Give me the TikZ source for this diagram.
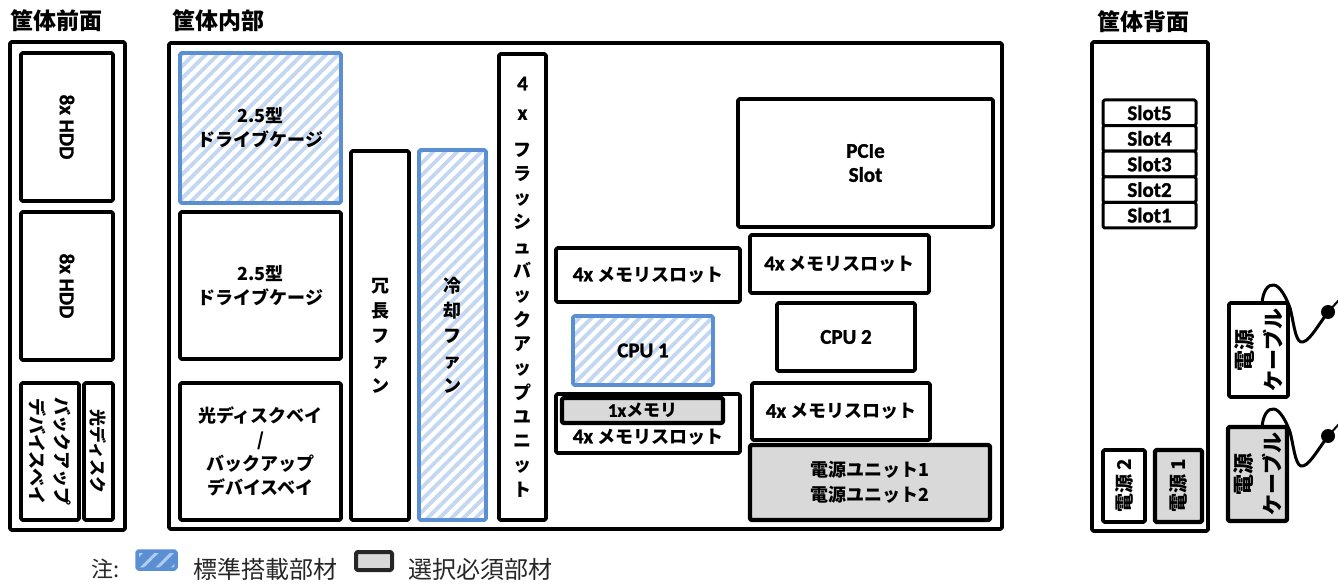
\documentclass[tikz,border=0pt]{standalone}
\usepackage{fontspec}
\setmainfont{Carlito}
\newfontfamily\latf{Carlito}[BoldFeatures={FakeBold=1.3}]
\newfontfamily\jpf{Noto Sans CJK JP}
\usetikzlibrary{patterns.meta}
\definecolor{hblue}{HTML}{5B8FD4}
\definecolor{hstripe}{HTML}{C4D7F0}
\definecolor{lstripe}{HTML}{B3CBEE}
\definecolor{psgray}{HTML}{D9D9D9}
\newcommand\jpsize[1]{\fontsize{#1}{24}\selectfont\jpf\bfseries}
\newcommand\jpskip[2]{\fontsize{#1}{#2}\selectfont\jpf\bfseries}
\newcommand\jpreg[1]{\fontsize{#1}{26}\selectfont\jpf\mdseries}
\newcommand\latsize[1]{\fontsize{#1}{24}\selectfont\latf\bfseries}
\newcommand\mybox[7]{\node[#6,minimum width=#4pt-#2pt,minimum height=#5pt-#3pt] (#1) at ({(#2+#4)/2},{(#3+#5)/2}) {#7};}
\tikzset{
  frame/.style={draw=black, line width=3.8pt, rounded corners=1.5pt, inner sep=0pt, outer sep=0pt},
  blk/.style={frame, fill=white, align=center, font=\jpsize{18}},
  std/.style={draw=hblue, line width=3.8pt, rounded corners=1.5pt, inner sep=0pt, outer sep=0pt,
    align=center, font=\jpsize{18}, preaction={fill=white},
    pattern={Lines[angle=45,distance=8.5pt,line width=3.8pt]}, pattern color=hstripe},
  opt/.style={blk, fill=psgray, line width=4.3pt},
  lbl/.style={inner sep=0pt, outer sep=0pt, align=center},
  cable/.style={line width=3pt, line cap=round},
}
\begin{document}
\begin{tikzpicture}[x=1pt,y=-1pt,line join=round]
\useasboundingbox (0,0) rectangle (1338,585);

% headings
\node[lbl, font=\jpsize{23}] (hfront) at (56,21) {筐体前面};
\node[lbl, font=\jpsize{23}] (hint) at (218,21) {筐体内部};
\node[lbl, font=\jpsize{23}] (hback) at (1143,22) {筐体背面};

% ---------- front ----------
\mybox{front}{10}{42}{125}{530}{frame}{}
\mybox{hdd1}{21}{53}{113}{201}{blk}{}
\mybox{hdd2}{21}{212}{113}{360}{blk}{}
\mybox{bbay}{21}{383}{79}{520}{blk}{}
\mybox{optf}{84}{383}{113}{520}{blk}{}
\node[lbl, rotate=-90, font=\latsize{21}] (hdd1t) at (hdd1.center) {8x HDD};
\node[lbl, rotate=-90, font=\latsize{21}] (hdd2t) at (hdd2.center) {8x HDD};
\node[lbl, rotate=-90, font=\jpskip{18}{25}] (bbayt) at (bbay.center) {バックアップ\\デバイスベイ};
\node[lbl, rotate=-90, font=\jpsize{17}] (optft) at (optf.center) {光ディスク};

% ---------- internal ----------
\mybox{inner}{169}{43}{1002}{529}{frame}{}
\mybox{cage1}{180}{53}{341}{203}{std}{2.5型\\ドライブケージ}
\mybox{cage2}{180}{212}{341}{359}{blk}{2.5型\\ドライブケージ}
\mybox{odd}{180}{383}{341}{520}{blk}{光ディスクベイ\\/\\バックアップ\\デバイスベイ}
\mybox{rfan}{351}{151}{409}{520}{blk, font=\jpskip{18}{25}}{冗\\長\\フ\\ァ\\ン}
\mybox{cfan}{419}{150}{486}{520}{std, font=\jpskip{18}{25}}{冷\\却\\フ\\ァ\\ン}
\mybox{flash}{499}{54}{546}{520}{blk, font=\jpskip{18}{24.3}}{{\latsize{21}4}\\[5pt]{\latsize{21}x}\\[12pt]フ\\ラ\\ッ\\シ\\ュ\\バ\\ッ\\ク\\ア\\ッ\\プ\\ユ\\ニ\\ッ\\ト}
\mybox{mem1}{556}{248}{740}{302}{blk}{{\latsize{21}4x} メモリスロット}
\mybox{cpu1}{573}{316}{713}{385}{std, font=\latsize{21}}{CPU 1}
\mybox{mem2}{556}{394}{740}{453}{blk}{}
\mybox{mem1x}{562}{398}{723}{423}{opt, font=\jpsize{17}}{{\latsize{19}1x}メモリ}
\node[lbl, font=\jpsize{18}] (mem2t) at (648,437) {{\latsize{21}4x} メモリスロット};
\mybox{pcie}{738}{99}{993}{227}{blk, font=\latsize{21}}{PCIe\\Slot}
\mybox{mem3}{750}{235}{929}{293}{blk}{{\latsize{21}4x} メモリスロット}
\mybox{cpu2}{777}{303}{915}{371}{blk, font=\latsize{21}}{CPU 2}
\mybox{mem4}{752}{383}{930}{440}{blk}{{\latsize{21}4x} メモリスロット}
\mybox{psu}{750}{445}{990}{520}{opt, font=\jpskip{18}{25}}{電源ユニット1\\電源ユニット2}

% ---------- back ----------
\mybox{back}{1092}{42}{1208}{531}{frame}{}
\mybox{slot5}{1103}{100}{1196}{125.6}{blk, line width=3pt, font=\latsize{21}}{Slot5}
\mybox{slot4}{1103}{125.6}{1196}{151.2}{blk, line width=3pt, font=\latsize{21}}{Slot4}
\mybox{slot3}{1103}{151.2}{1196}{176.8}{blk, line width=3pt, font=\latsize{21}}{Slot3}
\mybox{slot2}{1103}{176.8}{1196}{202.4}{blk, line width=3pt, font=\latsize{21}}{Slot2}
\mybox{slot1}{1103}{202.4}{1196}{228}{blk, line width=3pt, font=\latsize{21}}{Slot1}
\mybox{ps2}{1103}{450}{1145}{522}{blk}{}
\mybox{ps1}{1155}{450}{1202}{522}{opt}{}
\node[lbl, rotate=90, font=\jpsize{19}] (ps2t) at (ps2.center) {電源 2};
\node[lbl, rotate=90, font=\jpsize{19}] (ps1t) at (ps1.center) {電源 1};

\mybox{cbox1}{1229}{303}{1288}{397}{blk}{}
\mybox{cbox2}{1228}{427}{1287}{521}{opt}{}
\node[lbl, rotate=90, font=\jpskip{21}{29}] (cbox1t) at (cbox1.center) {電源\\ケーブル};
\node[lbl, rotate=90, font=\jpskip{21}{29}] (cbox2t) at (cbox2.center) {電源\\ケーブル};

\begin{scope}[shift={(cbox1.north east)}]
  \coordinate (plug1) at (40,9);
  \draw[cable] (-26,0) .. controls (-25,-12) and (-20,-19) .. (-14,-18)
     .. controls (-8,-17) and (-2,-6) .. (2,5)
     .. controls (5,15) and (7,38) .. (13,39)
     .. controls (20,40) and (27,27) .. (plug1);
  \fill (plug1) circle (7);
  \draw[line width=2pt] (plug1) -- ++(11,-12);
\end{scope}
\begin{scope}[shift={(cbox2.north east)}]
  \coordinate (plug2) at (41,9);
  \draw[cable] (-25,0) .. controls (-24,-12) and (-19,-19) .. (-13,-18)
     .. controls (-7,-17) and (-1,-6) .. (3,5)
     .. controls (6,15) and (8,38) .. (14,39)
     .. controls (21,40) and (28,27) .. (plug2);
  \fill (plug2) circle (7);
  \draw[line width=2pt] (plug2) -- ++(11,-12);
\end{scope}

% ---------- legend ----------
\node[lbl, font=\jpreg{22}, text=black!85] (lnote) at (106,569) {注:};
\mybox{lstd}{137}{551}{176}{569}{draw=hblue, line width=3.5pt, rounded corners=1.5pt, preaction={fill=hblue}, pattern={Lines[angle=45,distance=11pt,line width=3pt]}, pattern color=lstripe}{}
\node[lbl, font=\jpreg{24}, text=black!85] (lstdt) at (265,569) {標準搭載部材};
\mybox{lopt}{356}{552}{392}{570}{draw=black!85, line width=4pt, rounded corners=1.5pt, fill=psgray}{}
\node[lbl, font=\jpreg{24}, text=black!85] (loptt) at (480,569) {選択必須部材};
\end{tikzpicture}
\end{document}
